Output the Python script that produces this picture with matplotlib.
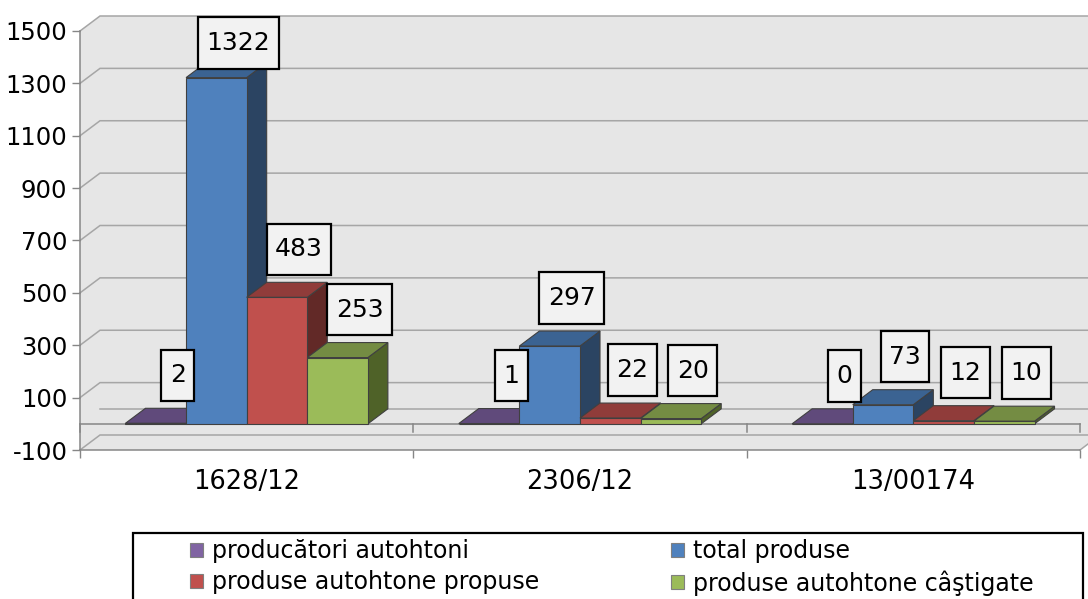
import matplotlib
matplotlib.use("Agg")
import matplotlib.pyplot as plt
from matplotlib.patches import Polygon, Patch, Rectangle
from matplotlib.path import Path

# ---- data -------------------------------------------------------------
categories = ["1628/12", "2306/12", "13/00174"]
series_names = ["producători autohtoni", "total produse",
                "produse autohtone propuse", "produse autohtone câştigate"]
producatori = [2, 1, 0]
total_produse = [1322, 297, 73]
propuse = [483, 22, 12]
castigate = [253, 20, 10]
y_ticks = [-100, 100, 300, 500, 700, 900, 1100, 1300, 1500]

# ---- styling ----------------------------------------------------------
front_colors = ["#8064A2", "#4F81BD", "#C0504D", "#9BBB59"]
top_colors = ["#604A7B", "#3B6392", "#903C3A", "#748C43"]
side_colors = ["#4A395F", "#2B4462", "#622927", "#4F6228"]
WALL = "#e6e6e6"
GRID = "#a6a6a6"
AXIS = "#868686"
EDGE = "#404040"

PX_W, PX_H = 1088, 599
fig = plt.figure(figsize=(PX_W / 100, PX_H / 100), dpi=100)
ax = fig.add_axes([80 / PX_W, (PX_H - 450) / PX_H, 1000 / PX_W, 419 / PX_H])
X0, X1 = -0.5, len(categories) - 0.5
Y0, Y1 = y_ticks[0], y_ticks[-1]
ax.set_xlim(X0, X1)
ax.set_ylim(Y0, Y1)
ax.set_facecolor("none")

# oblique depth of the 3-D box, expressed in data units (20 px right, 15 px up)
DX = 20 / (1000 / len(categories))
DY = 15 / (419 / (Y1 - Y0))
TICK_DOWN = 8 / (419 / (Y1 - Y0))

# ---- walls and floor ----------------------------------------------------
ax.add_patch(Polygon([(X0 + DX, Y0 + DY), (X1 + DX, Y0 + DY), (X1 + DX, Y1 + DY), (X0 + DX, Y1 + DY)],
                     fc=WALL, ec="none", clip_on=False, zorder=0))
ax.add_patch(Polygon([(X0, Y0), (X0 + DX, Y0 + DY), (X0 + DX, Y1 + DY), (X0, Y1)],
                     fc=WALL, ec="none", clip_on=False, zorder=0))
ax.add_patch(Polygon([(X0, Y0), (X1, Y0), (X1 + DX, Y0 + DY), (X0 + DX, Y0 + DY)],
                     fc=WALL, ec="none", clip_on=False, zorder=0))

for v in y_ticks:
    ax.plot([X0, X0 + DX, X1 + DX], [v, v + DY, v + DY], color=GRID, lw=1.1,
            clip_on=False, zorder=1, solid_joinstyle="miter")
# zero plane (category axis)
ax.plot([X0 + DX, X1 + DX], [DY, DY], color=GRID, lw=1.1, clip_on=False, zorder=1)
ax.plot([X0, X1], [0, 0], color=AXIS, lw=1.1, clip_on=False, zorder=1)
bounds = [X0 + k for k in range(len(categories) + 1)]
for b in bounds:
    ax.plot([b, b], [0, -TICK_DOWN], color=AXIS, lw=1.1, clip_on=False, zorder=1)
ax.plot([X1, X1 + DX], [Y0, Y0 + DY], color=GRID, lw=1.1, clip_on=False, zorder=1)

# ---- axes ---------------------------------------------------------------
for s in ["top", "right"]:
    ax.spines[s].set_visible(False)
for s in ["left", "bottom"]:
    ax.spines[s].set_color(AXIS)
    ax.spines[s].set_linewidth(1.1)
ax.set_yticks(y_ticks)
ax.set_yticklabels([str(v) for v in y_ticks])
ax.tick_params(axis="y", length=5.5, width=1, color=AXIS, pad=3.5, labelsize=17.5)
ax.set_xticks(range(len(categories)))
ax.set_xticklabels(categories)
ax.tick_params(axis="x", which="major", length=0, pad=14, labelsize=18.5)
ax.set_xticks(bounds, minor=True)
ax.tick_params(axis="x", which="minor", length=5.5, width=1, color=AXIS)


def label_box(x0, y0, width, height, mutation_size):
    px = 0.34 * mutation_size
    py = 0.55 * mutation_size
    return Path([(x0 - px, y0 - py), (x0 + width + px, y0 - py),
                 (x0 + width + px, y0 + height + py), (x0 - px, y0 + height + py),
                 (x0 - px, y0 - py)], closed=True)


# ---- 3-D columns --------------------------------------------------------
series = [producatori, total_produse, propuse, castigate]
n = len(series)
bw = 1 / (n + 1.5)          # 150 % gap width
LABEL_CEIL = 1328
z = 3.0
for i in range(len(categories)):
    for j, vals in enumerate(series):
        v = vals[i]
        left = i + (j - n / 2) * bw
        right = left + bw
        ax.add_patch(Polygon([(right, 0), (right, v), (right + DX, v + DY), (right + DX, DY)],
                             fc=side_colors[j], ec=EDGE, lw=0.8, zorder=z, joinstyle="miter"))
        ax.add_patch(Polygon([(left, v), (right, v), (right + DX, v + DY), (left + DX, v + DY)],
                             fc=top_colors[j], ec=EDGE, lw=0.8, zorder=z + 0.001, joinstyle="miter"))
        ax.bar(left, v, width=bw, align="edge", color=front_colors[j], edgecolor=EDGE,
               lw=0.8, zorder=z + 0.002)
        z += 0.01

# data labels
for i in range(len(categories)):
    for j, vals in enumerate(series):
        v = vals[i]
        cx = i + (j - n / 2) * bw + bw / 2 + DX
        ax.annotate(str(v), (cx, min(v + DY, LABEL_CEIL)), xytext=(2, 21),
                    textcoords="offset pixels", ha="center", va="bottom", fontsize=18,
                    color="black", zorder=10, annotation_clip=False,
                    bbox=dict(boxstyle=label_box, fc="#f2f2f2", ec="black", lw=1.6))

# ---- legend -------------------------------------------------------------
fig.add_artist(Rectangle((133 / PX_W, -10 / PX_H), 950 / PX_W, (PX_H - 533 + 10) / PX_H,
                         transform=fig.transFigure, fc="white", ec="black", lw=1.6))
handles = [Patch(fc=c, ec="#7f7f7f", lw=0.8) for c in front_colors]
order = [0, 2, 1, 3]
fig.legend([handles[k] for k in order], [series_names[k] for k in order],
           loc="upper left", bbox_to_anchor=(190 / PX_W, (PX_H - 539) / PX_H, 844 / PX_W, 0),
           mode="expand", ncol=2, frameon=False, borderpad=0, borderaxespad=0,
           handlelength=0.55, handleheight=0.55, handletextpad=0.4, labelspacing=0.3,
           fontsize=17)

fig.savefig("out.png", dpi=100, facecolor="white")
